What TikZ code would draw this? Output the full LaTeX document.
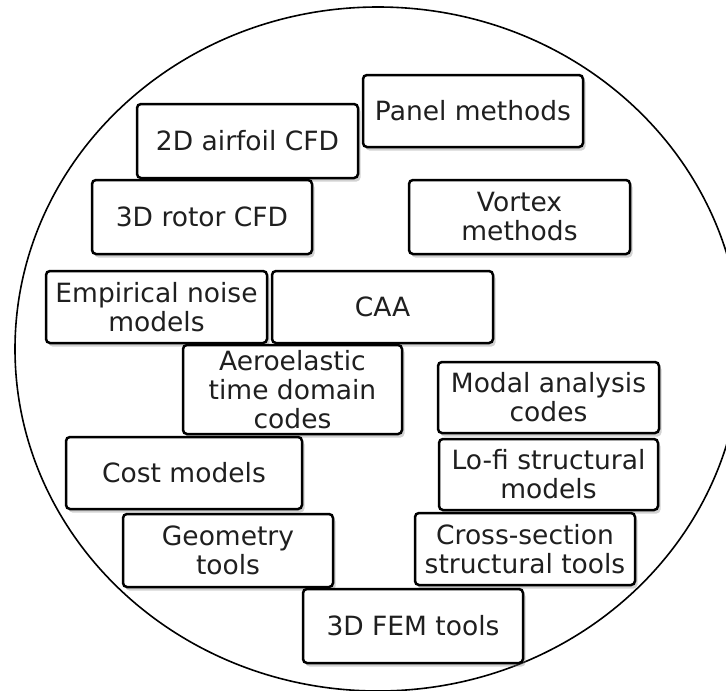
\documentclass[tikz,border=0pt]{standalone}
\usepackage{fontspec}
\setmainfont{DejaVu Sans}
\usetikzlibrary{shadows}
\tikzset{
  box/.style={draw=black, line width=2.5pt, rounded corners=4pt, fill=white,
    align=center, inner sep=0pt, text=black!88,
    font=\fontsize{26.5pt}{29pt}\selectfont,
    drop shadow={opacity=0.35, shadow xshift=2.5pt, shadow yshift=-3.5pt}},
  rim/.style={line width=1.6pt, draw=black}
}
\newcommand{\bx}[7]{% name, x1, x2, y1, y2, text
  \node[box, minimum width=#3pt-#2pt, minimum height=#5pt-#4pt] (#1) at ({(#2+#3)/2*1pt}, {-(#4+#5)/2*1pt}) {#6};}
\begin{document}
\begin{tikzpicture}
\useasboundingbox (0,0) rectangle (726pt,-691pt);
\clip (0,0) rectangle (726pt,-691pt);
\fill[white] (0,0) rectangle (726pt,-691pt);
\draw[rim] (378pt,-349pt) ellipse [x radius=363pt, y radius=342pt];
\bx{panel}{363}{583}{75}{147}{Panel methods}{}
\bx{airfoil}{137}{358}{104}{178}{2D airfoil CFD}{}
\bx{rotor}{92}{312}{180}{254}{3D rotor CFD}{}
\bx{vortex}{409}{630}{180}{254}{Vortex\\methods}{}
\bx{empirical}{46}{267}{271}{343}{Empirical noise\\models}{}
\bx{caa}{272}{493}{271}{343}{CAA}{}
\bx{aero}{183}{402}{345}{434}{Aeroelastic\\time domain\\codes}{}
\bx{modal}{438}{659}{362}{433}{Modal analysis\\codes}{}
\bx{cost}{66}{302}{437}{509}{Cost models}{}
\bx{lofi}{439}{658}{439}{510}{Lo-fi structural\\models}{}
\bx{geom}{123}{333}{514}{587}{Geometry\\tools}{}
\bx{cross}{415}{635}{513}{585}{Cross-section\\structural tools}{}
\bx{fem}{303}{523}{589}{663}{3D FEM tools}{}
\end{tikzpicture}
\end{document}
